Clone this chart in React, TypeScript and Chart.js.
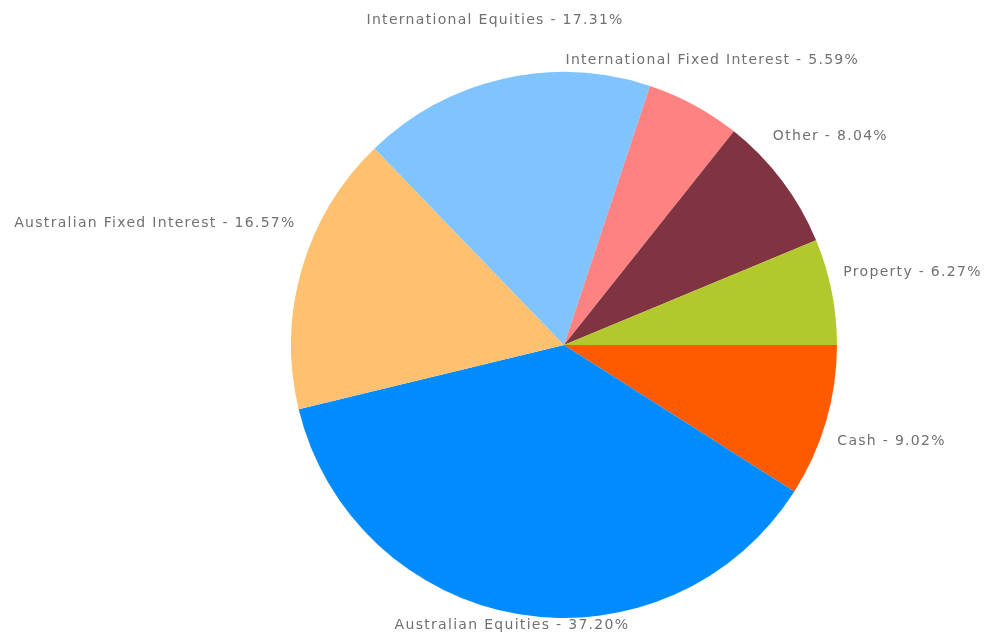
import React, { useEffect, useRef } from "react";
import { Chart, registerables } from "chart.js";

Chart.register(...registerables);

const categories = [
  "Cash",
  "Australian Equities",
  "Australian Fixed Interest",
  "International Equities",
  "International Fixed Interest",
  "Other",
  "Property",
];
const shares = [9.02, 37.2, 16.57, 17.31, 5.59, 8.04, 6.27];
const colors = ["#FF5A00", "#008CFF", "#FFC170", "#80C4FF", "#FF8282", "#803340", "#B3C82D"];
// per-label nudges (layout only) to mimic the original label placement
const labelNudges: [number, number][] = [
  [-8, 14],
  [-4, -9],
  [13, -40],
  [-4, -39],
  [-138, -27],
  [-25, -32],
  [-8, -15],
];

const outsideLabels = {
  id: "outsideLabels",
  afterDatasetsDraw(chart: any) {
    const ctx = chart.ctx;
    const meta = chart.getDatasetMeta(0);
    ctx.save();
    ctx.font = "14px 'DejaVu Sans', sans-serif";
    (ctx as any).letterSpacing = "1.3px";
    ctx.fillStyle = "#707070";
    ctx.textBaseline = "middle";
    meta.data.forEach((arc: any, i: number) => {
      const { x, y, startAngle, endAngle, outerRadius } = arc.getProps(
        ["x", "y", "startAngle", "endAngle", "outerRadius"],
        true
      );
      const mid = (startAngle + endAngle) / 2;
      const R = outerRadius + 20;
      const c = Math.cos(mid);
      const s = Math.sin(mid);
      const nx = labelNudges[i] ? labelNudges[i][0] : 0;
      const ny = labelNudges[i] ? labelNudges[i][1] : 0;
      const ax = x + R * c + nx;
      const ay = y + R * s + ny;
      ctx.textAlign = Math.abs(c) < 0.3 ? "center" : c > 0 ? "left" : "right";
      const text = `${categories[i]} - ${shares[i].toFixed(2)}%`;
      ctx.fillText(text, ax, ay);
    });
    ctx.restore();
  },
};

export default function App() {
  const ref = useRef<HTMLCanvasElement | null>(null);
  useEffect(() => {
    if (!ref.current) return;
    const chart = new Chart(ref.current, {
      type: "pie",
      data: {
        labels: categories,
        datasets: [
          {
            data: shares,
            backgroundColor: colors,
            borderWidth: 0,
          },
        ],
      },
      options: {
        responsive: false,
        animation: false,
        rotation: 90,
        layout: { padding: { left: 291, right: 148, top: 72, bottom: 18 } },
        plugins: {
          legend: { display: false },
          tooltip: { enabled: false },
        },
      },
      plugins: [outsideLabels],
    });
    return () => chart.destroy();
  }, []);
  return (
    <div style={{ position: "fixed", left: 0, top: 0, width: 985, height: 636, background: "#fff" }}>
      <canvas ref={ref} width={985} height={636} />
    </div>
  );
}
